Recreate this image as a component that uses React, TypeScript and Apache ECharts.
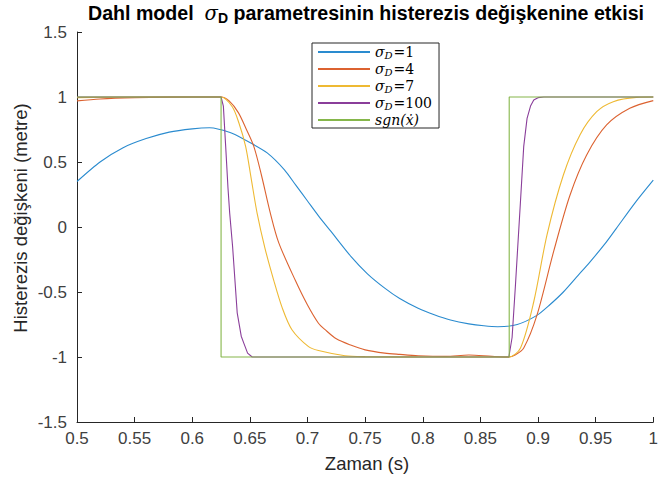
import React, { useEffect, useRef } from "react";
import * as echarts from "echarts";

// ---- data ----
const xTicks = [0.5, 0.55, 0.6, 0.65, 0.7, 0.75, 0.8, 0.85, 0.9, 0.95, 1];
const yTicks = [-1.5, -1, -0.5, 0, 0.5, 1, 1.5];

const s1Time = [0.5, 0.52, 0.54, 0.56, 0.58, 0.6, 0.615, 0.623, 0.635, 0.65, 0.665, 0.68, 0.69, 0.7, 0.71, 0.72, 0.738, 0.752, 0.767, 0.78, 0.796, 0.81, 0.824, 0.84, 0.853, 0.865, 0.882, 0.899, 0.91, 0.922, 0.935, 0.945, 0.958, 0.968, 0.985, 1.0];
const s1Value = [0.35, 0.5, 0.61, 0.68, 0.73, 0.755, 0.763, 0.752, 0.72, 0.65, 0.57, 0.44, 0.32, 0.2, 0.08, -0.03, -0.23, -0.36, -0.47, -0.55, -0.625, -0.675, -0.715, -0.745, -0.76, -0.767, -0.75, -0.68, -0.6, -0.5, -0.37, -0.27, -0.13, -0.01, 0.195, 0.36];

const s4Time = [0.5, 0.52, 0.55, 0.58, 0.625, 0.632, 0.64, 0.647, 0.6534, 0.66, 0.6678, 0.675, 0.6894, 0.7, 0.7095, 0.7153, 0.725, 0.738, 0.75, 0.767, 0.78, 0.796, 0.82, 0.84, 0.86, 0.8747, 0.88, 0.8876, 0.899, 0.9135, 0.9278, 0.9422, 0.9595, 0.9796, 1.0];
const s4Value = [0.97, 0.985, 0.995, 0.999, 1.0, 0.97, 0.88, 0.75, 0.62, 0.4, 0.105, -0.12, -0.41, -0.6, -0.74, -0.79, -0.86, -0.91, -0.945, -0.97, -0.98, -0.99, -0.995, -0.985, -0.995, -1.0, -0.985, -0.93, -0.68, -0.19, 0.246, 0.554, 0.785, 0.913, 0.972];

const s7Time = [0.5, 0.55, 0.625, 0.6347, 0.6405, 0.6463, 0.651, 0.6563, 0.663, 0.6707, 0.678, 0.6865, 0.7009, 0.7095, 0.7325, 0.75, 0.8, 0.85, 0.8747, 0.8848, 0.8963, 0.9078, 0.922, 0.9365, 0.9509, 0.9653, 0.9853, 1.0];
const s7Value = [0.995, 0.999, 1.0, 0.925, 0.8, 0.62, 0.38, 0.105, -0.16, -0.41, -0.62, -0.79, -0.92, -0.95, -0.99, -0.997, -1.0, -1.0, -1.0, -0.93, -0.575, -0.06, 0.4, 0.71, 0.887, 0.964, 0.997, 1.0];

const s100Time = [0.5, 0.625, 0.627, 0.629, 0.631, 0.6325, 0.635, 0.639, 0.6425, 0.6448, 0.648, 0.652, 0.7, 0.85, 0.8747, 0.8775, 0.8804, 0.8848, 0.8876, 0.8905, 0.8935, 0.8963, 0.9, 0.905, 1.0];
const s100Value = [1, 1, 0.93, 0.62, 0.3, 0.105, -0.15, -0.66, -0.84, -0.895, -0.97, -1.0, -1.0, -1.0, -1.0, -0.85, -0.45, 0.2, 0.62, 0.836, 0.93, 0.977, 0.995, 1.0, 1.0];

const sgnTime = [0.5, 0.625, 0.625, 0.875, 0.875, 1.0];
const sgnValue = [1, 1, -1, -1, 1, 1];

const seriesNames = ["σD=1", "σD=4", "σD=7", "σD=100", "sgn(ẋ)"];
const seriesColors = ["#2A8BCF", "#DC6230", "#EEB933", "#8A3E9A", "#85B64A"];

const pairs = (t: number[], v: number[]) => t.map((x, i) => [x, v[i]]);

export default function App() {
  const ref = useRef<HTMLDivElement>(null);
  useEffect(() => {
    document.body.style.margin = "0";
    if (!ref.current) return;
    const chart = echarts.init(ref.current, null, { renderer: "svg" });
    const datasets = [
      pairs(s1Time, s1Value),
      pairs(s4Time, s4Value),
      pairs(s7Time, s7Value),
      pairs(s100Time, s100Value),
      pairs(sgnTime, sgnValue),
    ];
    const smoothing = [0.25, 0.3, 0.3, 0, 0];
    const fmt = (v: number) => String(parseFloat(Number(v).toFixed(2)));
    const axisColor = "#262626";
    const labelColor = "#404040";
    const sansFont = "'Liberation Sans', Arial, sans-serif";
    const serifFont = "'DejaVu Serif', 'Liberation Serif', serif";

    chart.setOption({
      animation: false,
      backgroundColor: "#ffffff",
      grid: { left: 77, right: 4, top: 32, bottom: 57 },
      xAxis: {
        type: "value",
        min: xTicks[0],
        max: xTicks[xTicks.length - 1],
        interval: 0.05,
        axisLine: { show: true, onZero: false, lineStyle: { color: axisColor, width: 1 } },
        axisTick: { show: true, inside: true, length: 5, lineStyle: { color: axisColor } },
        axisLabel: { color: labelColor, fontSize: 17, fontFamily: sansFont, margin: 8, formatter: fmt },
        splitLine: { show: false },
      },
      yAxis: {
        type: "value",
        min: yTicks[0],
        max: yTicks[yTicks.length - 1],
        interval: 0.5,
        axisLine: { show: true, onZero: false, lineStyle: { color: axisColor, width: 1 } },
        axisTick: { show: true, inside: true, length: 5, lineStyle: { color: axisColor } },
        axisLabel: { color: labelColor, fontSize: 17, fontFamily: sansFont, margin: 10, formatter: fmt },
        splitLine: { show: false },
      },
      legend: {
        orient: "vertical",
        left: 312,
        top: 43,
        itemWidth: 52,
        itemHeight: 2,
        itemGap: 1.5,
        icon: "rect",
        padding: [2, 7, 1, 6],
        borderColor: axisColor,
        borderWidth: 1,
        backgroundColor: "#ffffff",
        data: seriesNames,
        formatter: (name: string) => {
          if (name.startsWith("σD=")) {
            return "{s|σ}{d|D}{n|=" + name.slice(3) + "}";
          }
          return "{i|" + name + "}";
        },
        textStyle: {
          color: "#000",
          fontFamily: serifFont,
          fontSize: 14,
          rich: {
            s: { fontFamily: serifFont, fontStyle: "italic", fontSize: 14, color: "#000" },
            d: { fontFamily: serifFont, fontStyle: "italic", fontSize: 10, color: "#000", padding: [7, 1, 0, 0] },
            n: { fontFamily: serifFont, fontSize: 14, color: "#000" },
            i: { fontFamily: serifFont, fontStyle: "italic", fontSize: 14, color: "#000" },
          },
        },
      },
      graphic: [
        {
          type: "text",
          x: 366,
          y: 13,
          style: {
            text: "{b|Dahl model  }{s|σ}{d|D}{b| parametresinin histerezis değişkenine etkisi}",
            align: "center",
            verticalAlign: "middle",
            textAlign: "center",
            textVerticalAlign: "middle",
            rich: {
              b: { fontFamily: sansFont, fontWeight: "bold", fontSize: 19.6, fill: "#000", color: "#000" },
              s: { fontFamily: serifFont, fontStyle: "italic", fontSize: 19.6, fill: "#000", color: "#000" },
              d: { fontFamily: sansFont, fontWeight: "bold", fontSize: 14, fill: "#000", color: "#000", padding: [10, 0, 0, 0] },
            },
          },
        },
        {
          type: "text",
          x: 20,
          y: 218,
          rotation: Math.PI / 2,
          style: {
            text: "Histerezis değişkeni (metre)",
            fontFamily: sansFont,
            fontSize: 18.5,
            fill: "#262626",
            align: "center",
            verticalAlign: "middle",
            textAlign: "center",
            textVerticalAlign: "middle",
          },
        },
        {
          type: "text",
          x: 367,
          y: 463,
          style: {
            text: "Zaman (s)",
            fontFamily: sansFont,
            fontSize: 18.5,
            fill: "#262626",
            align: "center",
            verticalAlign: "middle",
            textAlign: "center",
            textVerticalAlign: "middle",
          },
        },
      ],
      series: datasets.map((d, i) => ({
        type: "line",
        name: seriesNames[i],
        data: d,
        showSymbol: false,
        symbol: "none",
        smooth: smoothing[i],
        lineStyle: { color: seriesColors[i], width: 1.1 },
        itemStyle: { color: seriesColors[i] },
        emphasis: { disabled: true },
      })),
    });
    return () => chart.dispose();
  }, []);
  return <div ref={ref} style={{ width: 661, height: 479 }} />;
}
